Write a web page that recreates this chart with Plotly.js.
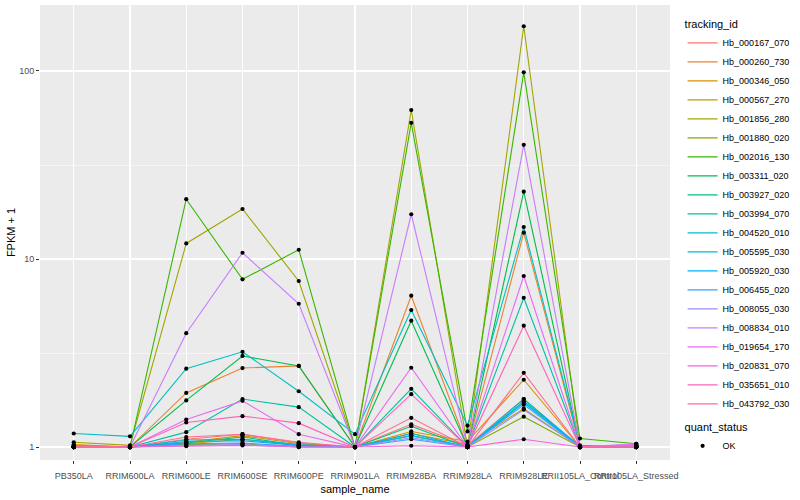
<!DOCTYPE html>
<html>
<head>
<meta charset="utf-8">
<script src="https://cdn.plot.ly/plotly-3.0.1.min.js"></script>
<style>html,body{margin:0;padding:0;background:#fff}#chart{width:800px;height:500px}</style>
</head>
<body>
<div id="chart"></div>
<script>
// ---- data (FPKM + 1) ----
const samples = ["PB350LA","RRIM600LA","RRIM600LE","RRIM600SE","RRIM600PE","RRIM901LA","RRIM928BA","RRIM928LA","RRIM928LE","RRII105LA_Control","RRII105LA_Stressed"];
const trackingIds = ["Hb_000167_070","Hb_000260_730","Hb_000346_050","Hb_000567_270","Hb_001856_280","Hb_001880_020","Hb_002016_130","Hb_003311_020","Hb_003927_020","Hb_003994_070","Hb_004520_010","Hb_005595_030","Hb_005920_030","Hb_006455_020","Hb_008055_030","Hb_008834_010","Hb_019654_170","Hb_020831_070","Hb_035651_010","Hb_043792_030"];
const colors = ["#F8766D","#EA8331","#D89000","#C09B00","#A3A500","#7CAE00","#39B600","#00BB4E","#00BF7D","#00C1A3","#00BFC4","#00BAE0","#00B0F6","#35A2FF","#9590FF","#C77CFF","#E76BF3","#FA62DB","#FF62BC","#FF6C91"];

const hb_000167_070 = [1.01, 1.00, 1.10, 1.17, 1.05, 1.00, 1.32, 1.02, 1.80, 1.00, 1.02];
const hb_000260_730 = [1.00, 1.00, 1.94, 2.63, 2.70, 1.00, 6.38, 1.00, 13.8, 1.00, 1.00];
const hb_000346_050 = [1.02, 1.00, 1.06, 1.15, 1.04, 1.00, 1.21, 1.07, 2.28, 1.00, 1.01];
const hb_000567_270 = [1.03, 1.00, 1.04, 1.10, 1.02, 1.00, 1.18, 1.03, 1.60, 1.00, 1.00];
const hb_001856_280 = [1.06, 1.02, 12.1, 18.45, 7.64, 1.00, 62.0, 1.00, 173.0, 1.00, 1.00];
const hb_001880_020 = [1.00, 1.00, 1.03, 1.04, 1.00, 1.00, 1.15, 1.00, 1.45, 1.00, 1.02];
const hb_002016_130 = [1.00, 1.00, 20.8, 7.80, 11.2, 1.00, 53.0, 1.21, 98.4, 1.11, 1.04];
const hb_003311_020 = [1.00, 1.00, 1.77, 3.05, 2.70, 1.00, 4.70, 1.00, 22.8, 1.00, 1.00];
const hb_003927_020 = [1.00, 1.00, 1.05, 1.13, 1.02, 1.00, 1.29, 1.00, 1.75, 1.01, 1.00];
const hb_003994_070 = [1.00, 1.00, 1.20, 1.80, 1.63, 1.00, 2.04, 1.00, 6.22, 1.00, 1.01];
const hb_004520_010 = [1.18, 1.14, 2.61, 3.21, 1.98, 1.17, 5.35, 1.30, 14.8, 1.02, 1.00];
const hb_005595_030 = [1.01, 1.00, 1.09, 1.10, 1.03, 1.00, 1.15, 1.00, 1.80, 1.00, 1.00];
const hb_005920_030 = [1.00, 1.00, 1.07, 1.08, 1.02, 1.00, 1.18, 1.00, 1.72, 1.00, 1.00];
const hb_006455_020 = [1.00, 1.00, 1.04, 1.05, 1.01, 1.00, 1.10, 1.00, 1.68, 1.00, 1.01];
const hb_008055_030 = [1.00, 1.00, 1.02, 1.03, 1.00, 1.00, 1.12, 1.00, 1.58, 1.00, 1.02];
const hb_008834_010 = [1.00, 1.00, 4.03, 10.8, 5.78, 1.00, 17.3, 1.00, 40.5, 1.00, 1.04];
const hb_019654_170 = [1.00, 1.00, 1.40, 1.76, 1.17, 1.00, 2.64, 1.00, 8.12, 1.00, 1.03];
const hb_020831_070 = [1.00, 1.00, 1.01, 1.02, 1.00, 1.00, 1.016, 1.00, 1.10, 1.00, 1.00];
const hb_035651_010 = [1.00, 1.00, 1.35, 1.46, 1.34, 1.00, 1.91, 1.00, 4.42, 1.00, 1.00];
const hb_043792_030 = [1.01, 1.00, 1.13, 1.17, 1.06, 1.00, 1.43, 1.00, 2.48, 1.00, 1.00];

const seriesValues = [hb_000167_070, hb_000260_730, hb_000346_050, hb_000567_270, hb_001856_280, hb_001880_020, hb_002016_130, hb_003311_020, hb_003927_020, hb_003994_070, hb_004520_010, hb_005595_030, hb_005920_030, hb_006455_020, hb_008055_030, hb_008834_010, hb_019654_170, hb_020831_070, hb_035651_010, hb_043792_030];
const yTickVals = [1, 10, 100];
const yTickText = ["1", "10", "100"];

// ---- traces ----
const FONT = "Liberation Sans, Arial, Helvetica, sans-serif";
const traces = trackingIds.map((id, i) => ({
  type: "scatter", mode: "lines", name: id,
  x: samples, y: seriesValues[i],
  line: {color: colors[i], width: 1.1},
  legend: "legend", hoverinfo: "skip"
}));
const px = [], py = [];
seriesValues.forEach(vals => vals.forEach((v, j) => { px.push(samples[j]); py.push(v); }));
traces.push({
  type: "scatter", mode: "markers", name: "OK",
  x: px, y: py,
  marker: {color: "#000000", size: 4.2, symbol: "circle"},
  legend: "legend2", hoverinfo: "skip"
});

const layout = {
  width: 800, height: 500,
  paper_bgcolor: "#FFFFFF", plot_bgcolor: "#EBEBEB",
  margin: {l: 40, r: 117, t: 5, b: 40},
  font: {family: FONT, size: 9, color: "#000000"},
  xaxis: {
    type: "category", categoryorder: "array", categoryarray: samples,
    range: [-0.6, 10.6],
    showgrid: true, gridcolor: "#FFFFFF", gridwidth: 1.1,
    zeroline: false, showline: false,
    ticks: "outside", ticklen: 3, tickcolor: "#333333", tickwidth: 1,
    ticklabelstandoff: 4,
    tickfont: {family: FONT, size: 9, color: "#4D4D4D"},
    tickangle: 0,
    title: {text: "sample_name", font: {family: FONT, size: 11, color: "#000000"}, standoff: 5}
  },
  yaxis: {
    type: "log", range: [-0.069, 2.351],
    tickmode: "array", tickvals: yTickVals, ticktext: yTickText,
    showgrid: true, gridcolor: "#FFFFFF", gridwidth: 1.1,
    minor: {tickmode: "array", tickvals: [Math.sqrt(10), Math.sqrt(1000)], showgrid: true, gridcolor: "#FFFFFF", gridwidth: 0.5, ticks: ""},
    zeroline: false, showline: false,
    ticks: "outside", ticklen: 3, tickcolor: "#333333", tickwidth: 1,
    tickfont: {family: FONT, size: 9, color: "#4D4D4D"},
    title: {text: "FPKM + 1", font: {family: FONT, size: 11, color: "#000000"}, standoff: 1}
  },
  legend: {
    x: 1.02, xanchor: "left", y: 0.980, yanchor: "top",
    bgcolor: "rgba(0,0,0,0)",
    font: {family: FONT, size: 9, color: "#000000"},
    title: {text: "tracking_id", font: {family: FONT, size: 11, color: "#000000"}},
    itemwidth: 30, tracegroupgap: 0
  },
  legend2: {
    x: 1.02, xanchor: "left", y: 0.0945, yanchor: "top",
    bgcolor: "rgba(0,0,0,0)",
    font: {family: FONT, size: 9, color: "#000000"},
    title: {text: "quant_status", font: {family: FONT, size: 11, color: "#000000"}},
    itemwidth: 30
  },
  showlegend: true
};

Plotly.newPlot("chart", traces, layout, {displayModeBar: false, staticPlot: true});
</script>
</body>
</html>
